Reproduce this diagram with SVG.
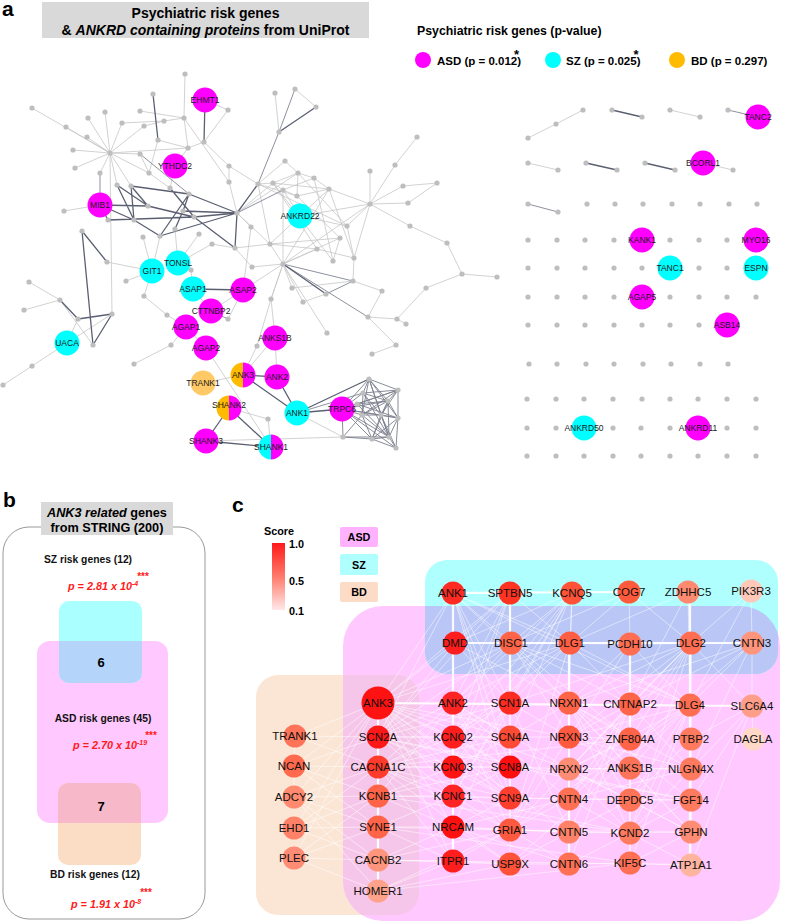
<svg xmlns="http://www.w3.org/2000/svg" width="786" height="922" viewBox="0 0 786 922">
<defs>
<style>
text{font-family:"Liberation Sans",Arial,sans-serif}
.b{font-weight:bold}
.e1{stroke:#C6C6C6;stroke-width:0.8;fill:none}
.e2{stroke:#8D929E;stroke-width:1;fill:none}
.e3{stroke:#5A6071;stroke-width:1.3;fill:none}
.ek{stroke:#7A7F8C;stroke-width:0.9;fill:none}
.g circle{fill:#BEBEBE}
.lbl{font-size:8.5px;fill:#1a1a1a;text-anchor:middle}
.cl{font-size:11.5px;fill:#111;text-anchor:middle}
.ce{stroke:#fff;stroke-width:0.9;stroke-opacity:0.55;fill:none}
.cg{stroke:#fff;stroke-width:2.2;stroke-opacity:0.9;fill:none}
.mag{fill:#FF00FF}
.cya{fill:#00FFFF}
.ora{fill:#FFBB00}
.red{fill:#FF1A1A;font-style:italic;font-weight:bold;font-size:10.8px}
.star{fill:#FF1A1A;font-weight:bold;font-size:10px;text-anchor:middle}
</style>
<linearGradient id="sc" x1="0" y1="0" x2="0" y2="1">
<stop offset="0" stop-color="#FF1A1A"/>
<stop offset="0.5" stop-color="#FF7A6A"/>
<stop offset="1" stop-color="#FFE8E8"/>
</linearGradient>
<clipPath id="cpB"><rect x="37" y="641" width="131" height="182" rx="13"/></clipPath>
<clipPath id="cpC"><rect x="343" y="606" width="437" height="315" rx="40"/></clipPath>
</defs>
<rect width="786" height="922" fill="#fff"/>

<!-- ===== Panel a ===== -->
<text x="2" y="16" class="b" font-size="21">a</text>
<g id="a-title">
<rect x="42" y="2" width="327" height="36" fill="#D9D9D9"/>
<text x="205.5" y="18" class="b" font-size="14" text-anchor="middle">Psychiatric risk genes</text>
<text x="205.5" y="34.5" class="b" font-size="14" text-anchor="middle">&amp; <tspan font-style="italic">ANKRD containing proteins</tspan> from UniProt</text>
</g>
<g id="a-legend">
<text x="417" y="35" class="b" font-size="12.3">Psychiatric risk genes (p-value)</text>
<circle cx="423" cy="60" r="8" class="mag"/>
<text x="437" y="65" class="b" font-size="11.5">ASD (p = 0.012)<tspan dx="-7" dy="-6" font-size="13">*</tspan></text>
<circle cx="553" cy="60" r="8" class="cya"/>
<text x="566" y="65" class="b" font-size="11.5">SZ (p = 0.025)<tspan dx="-7" dy="-6" font-size="13">*</tspan></text>
<circle cx="677" cy="60" r="8" class="ora"/>
<text x="691" y="65" class="b" font-size="11.5">BD (p = 0.297)</text>
</g>

<g id="a-connectors">
<path class="e1" d="M110 153L32 108M110 153L66 127M110 153L88 118M110 153L105 112M110 153L87 137M110 153L73 150M110 153L75 168M110 153L122 123M110 153L144 126M110 153L140 154M110 153L149 173M110 153L117 185M110 153L131 186M110 153L188 148M110 153L112 314M185 74L184 118M140 111L184 118M122 123L164 121M144 126L164 121M164 121L184 118M184 118L229 182M184 118L188 148M158 140L188 148M188 148L204 142M204 142L229 166M228 110L205 100M228 110L204 142M229 166L258 184M229 166L229 182M229 182L237 213M188 148L175 166M175 166L170 188M149 173L170 188M140 154L149 173M158 140L149 173M100 205L64 211M100 173L110 153M275 93L279 132M295 89L316 107M285 161L258 184M285 161L298 173M258 184L273 183M273 183L283 190M283 190L297 196M298 173L314 178M314 178L329 189M297 196L329 189M273 183L298 173M283 190L314 178M258 184L297 196M273 183L329 189M298 173L297 196M283 190L300 216M273 183L317 249M258 184L270 244M297 196L340 238M298 173L347 226M314 178L333 261M329 189L354 258M258 184L347 226M273 183L333 261M270 244L340 238M270 244L329 189M270 244L317 249M317 249L354 258M340 238L333 261M347 226L354 258M300 216L347 226M300 216L370 204M329 189L370 204M283 264L270 244M283 264L317 249M283 264L340 238M283 264L329 189M283 264L283 190M283 264L303 302M283 264L292 288M283 264L271 299M283 264L327 333M283 264L370 204M283 264L252 267M237 213L270 244M235 248L270 244M235 248L252 267M237 213L298 173M237 213L273 183M353 281L382 291M368 317L382 291M368 317L397 319M397 319L426 288M426 288L462 274M462 274L497 277M462 274L447 243M447 243L410 226M410 226L370 204M370 204L370 171M370 204L395 165M370 204L403 186M370 204L408 203M403 186L437 183M408 203L437 183M395 165L417 137M370 204L354 258M370 204L347 226M368 317L396 345M396 345L372 354M397 319L406 324M353 281L354 258M303 302L326 294M292 288L353 281M60 300L29 282M60 300L24 310M67 343L112 314M67 343L32 366M32 366L3 385M107 262L152 271M152 271L126 281M152 271L144 296M144 296L167 315M167 315L186 327M152 271L143 237M152 271L160 236M178 263L191 270M178 263L175 229M178 263L199 234M191 270L193 289M212 244L235 248M178 263L212 244M193 289L211 311M243 290L211 311M243 290L228 319M243 290L251 227M243 290L283 264M251 227L237 213M186 327L206 348M186 327L171 345M171 345L134 364M206 348L271 447M283 264L271 299M271 299L257 346M257 346L243 375M275 337L243 375M275 337L277 377M275 337L271 299M203 383L243 375M229 408L268 419M268 419L271 447M206 441L343 437M297 413L343 437M67 343L78 319M60 300L93 345"/>
<path class="e2" d="M100 205L100 173M279 132L258 184M295 89L279 132M237 213L283 190M140 154L189 194M283 264L353 281M283 264L368 317M211 311L228 319M297 413L363 393M326 294L353 281"/>
<path class="e3" d="M205 100L204 142M153 94L158 140M100 205L148 206M100 205L134 220M100 205L108 220M117 185L148 206M117 185L134 220M131 186L134 220M131 186L148 206M108 220L194 217M134 220L160 236M148 206L194 217M131 186L189 194M189 194L183 211M189 194L160 236M189 194L237 213M183 211L237 213M194 217L237 213M160 236L237 213M194 217L235 248M170 188L194 217M183 211L175 229M237 213L235 248M237 213L258 184M279 132L316 107M82 231L107 262M82 231L93 345M112 314L93 345M78 319L112 314M60 300L78 319M283 264L326 294M193 289L243 290M243 375L277 377M243 375L297 413M277 377L297 413M297 413L342 409M229 408L206 441M229 408L271 447M206 441L271 447M297 413L369 379"/>
<path class="ek" d="M342 409L369 379M342 409L388 401M342 409L398 418M342 409L381 415M342 409L363 393M342 409L362 415M342 409L389 437M342 409L372 439M342 409L343 437M342 409L357 404M342 409L396 448M342 409L398 390M369 379L388 401M369 379L398 418M369 379L381 415M369 379L363 393M369 379L362 415M369 379L389 437M369 379L398 390M388 401L398 418M388 401L381 415M388 401L362 415M388 401L389 437M388 401L372 439M388 401L398 390M398 418L381 415M398 418L389 437M398 418L372 439M398 418L396 448M398 418L398 390M381 415L363 393M381 415L362 415M381 415L389 437M381 415L372 439M381 415L396 448M363 393L362 415M363 393L388 401M363 393L389 437M363 393L398 390M362 415L389 437M362 415L372 439M362 415L343 437M389 437L372 439M389 437L396 448M372 439L343 437M372 439L396 448M357 404L388 401M357 404L398 418M357 404L389 437M357 404L398 390M343 437L389 437M398 390L381 415M398 390L362 415"/>
<path class="e1" d="M528 138L556 124L583 110M670 110L700 117M528 163L558 170M703 163L733 170"/>
<path class="e2" d="M728 110L758 117M528 204L558 212"/>
<path class="e3" d="M612 110L642 117M586 163L617 170M645 163L675 170"/>
</g>

<g id="a-gray-nodes" class="g">
<circle cx="32" cy="108" r="2.6"/><circle cx="88" cy="118" r="2.6"/><circle cx="105" cy="112" r="2.6"/><circle cx="66" cy="127" r="2.6"/><circle cx="87" cy="137" r="2.6"/><circle cx="73" cy="150" r="2.6"/><circle cx="75" cy="168" r="2.6"/><circle cx="110" cy="153" r="2.6"/><circle cx="122" cy="123" r="2.6"/><circle cx="140" cy="111" r="2.6"/><circle cx="144" cy="126" r="2.6"/><circle cx="153" cy="94" r="2.6"/><circle cx="164" cy="121" r="2.6"/><circle cx="185" cy="74" r="2.6"/><circle cx="184" cy="118" r="2.6"/><circle cx="158" cy="140" r="2.6"/><circle cx="140" cy="154" r="2.6"/><circle cx="188" cy="148" r="2.6"/><circle cx="149" cy="173" r="2.6"/><circle cx="100" cy="173" r="2.6"/><circle cx="117" cy="185" r="2.6"/><circle cx="131" cy="186" r="2.6"/><circle cx="170" cy="188" r="2.6"/><circle cx="189" cy="194" r="2.6"/><circle cx="148" cy="206" r="2.6"/><circle cx="64" cy="211" r="2.6"/><circle cx="108" cy="220" r="2.6"/><circle cx="134" cy="220" r="2.6"/><circle cx="183" cy="211" r="2.6"/><circle cx="194" cy="217" r="2.6"/><circle cx="82" cy="231" r="2.6"/><circle cx="143" cy="237" r="2.6"/><circle cx="160" cy="236" r="2.6"/><circle cx="175" cy="229" r="2.6"/><circle cx="228" cy="110" r="2.6"/><circle cx="204" cy="142" r="2.6"/><circle cx="229" cy="166" r="2.6"/><circle cx="229" cy="182" r="2.6"/><circle cx="199" cy="234" r="2.6"/><circle cx="237" cy="213" r="2.6"/><circle cx="258" cy="184" r="2.6"/><circle cx="273" cy="183" r="2.6"/><circle cx="283" cy="190" r="2.6"/><circle cx="297" cy="196" r="2.6"/><circle cx="298" cy="173" r="2.6"/><circle cx="314" cy="178" r="2.6"/><circle cx="329" cy="189" r="2.6"/><circle cx="285" cy="161" r="2.6"/><circle cx="275" cy="93" r="2.6"/><circle cx="295" cy="89" r="2.6"/><circle cx="316" cy="107" r="2.6"/><circle cx="279" cy="132" r="2.6"/><circle cx="235" cy="248" r="2.6"/><circle cx="270" cy="244" r="2.6"/><circle cx="252" cy="267" r="2.6"/><circle cx="283" cy="264" r="2.6"/><circle cx="317" cy="249" r="2.6"/><circle cx="340" cy="238" r="2.6"/><circle cx="347" cy="226" r="2.6"/><circle cx="333" cy="261" r="2.6"/><circle cx="354" cy="258" r="2.6"/><circle cx="353" cy="281" r="2.6"/><circle cx="326" cy="294" r="2.6"/><circle cx="303" cy="302" r="2.6"/><circle cx="292" cy="288" r="2.6"/><circle cx="271" cy="299" r="2.6"/><circle cx="368" cy="317" r="2.6"/><circle cx="382" cy="291" r="2.6"/><circle cx="370" cy="204" r="2.6"/><circle cx="370" cy="171" r="2.6"/><circle cx="395" cy="165" r="2.6"/><circle cx="417" cy="137" r="2.6"/><circle cx="437" cy="183" r="2.6"/><circle cx="403" cy="186" r="2.6"/><circle cx="408" cy="203" r="2.6"/><circle cx="410" cy="226" r="2.6"/><circle cx="447" cy="243" r="2.6"/><circle cx="462" cy="274" r="2.6"/><circle cx="497" cy="277" r="2.6"/><circle cx="426" cy="288" r="2.6"/><circle cx="406" cy="324" r="2.6"/><circle cx="397" cy="319" r="2.6"/><circle cx="396" cy="345" r="2.6"/><circle cx="372" cy="354" r="2.6"/><circle cx="327" cy="333" r="2.6"/><circle cx="107" cy="262" r="2.6"/><circle cx="112" cy="314" r="2.6"/><circle cx="93" cy="345" r="2.6"/><circle cx="78" cy="319" r="2.6"/><circle cx="60" cy="300" r="2.6"/><circle cx="29" cy="282" r="2.6"/><circle cx="24" cy="310" r="2.6"/><circle cx="32" cy="366" r="2.6"/><circle cx="3" cy="385" r="2.6"/><circle cx="126" cy="281" r="2.6"/><circle cx="144" cy="296" r="2.6"/><circle cx="167" cy="315" r="2.6"/><circle cx="171" cy="345" r="2.6"/><circle cx="134" cy="364" r="2.6"/><circle cx="212" cy="244" r="2.6"/><circle cx="251" cy="227" r="2.6"/><circle cx="228" cy="319" r="2.6"/><circle cx="257" cy="346" r="2.6"/><circle cx="268" cy="419" r="2.6"/><circle cx="191" cy="270" r="2.6"/>
<circle cx="369" cy="379" r="2.6"/><circle cx="388" cy="401" r="2.6"/><circle cx="398" cy="418" r="2.6"/><circle cx="381" cy="415" r="2.6"/><circle cx="363" cy="393" r="2.6"/><circle cx="362" cy="415" r="2.6"/><circle cx="389" cy="437" r="2.6"/><circle cx="372" cy="439" r="2.6"/><circle cx="343" cy="437" r="2.6"/><circle cx="357" cy="404" r="2.6"/><circle cx="396" cy="448" r="2.6"/><circle cx="398" cy="390" r="2.6"/>
<circle cx="528" cy="138" r="2.6"/><circle cx="556" cy="124" r="2.6"/><circle cx="583" cy="110" r="2.6"/><circle cx="612" cy="110" r="2.6"/><circle cx="642" cy="117" r="2.6"/><circle cx="670" cy="110" r="2.6"/><circle cx="700" cy="117" r="2.6"/><circle cx="728" cy="110" r="2.6"/>
<circle cx="528" cy="163" r="2.6"/><circle cx="558" cy="170" r="2.6"/><circle cx="586" cy="163" r="2.6"/><circle cx="617" cy="170" r="2.6"/><circle cx="645" cy="163" r="2.6"/><circle cx="675" cy="170" r="2.6"/><circle cx="733" cy="170" r="2.6"/>
<circle cx="528" cy="204" r="2.6"/><circle cx="558" cy="212" r="2.6"/><circle cx="587" cy="204" r="2.6"/><circle cx="615" cy="204" r="2.6"/><circle cx="643" cy="204" r="2.6"/><circle cx="672" cy="204" r="2.6"/><circle cx="700" cy="204" r="2.6"/><circle cx="729" cy="204" r="2.6"/><circle cx="757" cy="204" r="2.6"/>
<circle cx="528" cy="240" r="2.6"/><circle cx="557" cy="240" r="2.6"/><circle cx="585" cy="240" r="2.6"/><circle cx="614" cy="240" r="2.6"/><circle cx="670" cy="240" r="2.6"/><circle cx="699" cy="240" r="2.6"/><circle cx="727" cy="240" r="2.6"/>
<circle cx="528" cy="268" r="2.6"/><circle cx="557" cy="268" r="2.6"/><circle cx="585" cy="268" r="2.6"/><circle cx="614" cy="268" r="2.6"/><circle cx="642" cy="268" r="2.6"/><circle cx="699" cy="268" r="2.6"/><circle cx="727" cy="268" r="2.6"/>
<circle cx="528" cy="297" r="2.6"/><circle cx="557" cy="297" r="2.6"/><circle cx="585" cy="297" r="2.6"/><circle cx="614" cy="297" r="2.6"/><circle cx="670" cy="297" r="2.6"/><circle cx="699" cy="297" r="2.6"/><circle cx="727" cy="297" r="2.6"/><circle cx="756" cy="297" r="2.6"/>
<circle cx="528" cy="325" r="2.6"/><circle cx="557" cy="325" r="2.6"/><circle cx="585" cy="325" r="2.6"/><circle cx="614" cy="325" r="2.6"/><circle cx="642" cy="325" r="2.6"/><circle cx="670" cy="325" r="2.6"/><circle cx="699" cy="325" r="2.6"/>
<circle cx="529" cy="364" r="2.6"/><circle cx="557" cy="364" r="2.6"/><circle cx="586" cy="364" r="2.6"/><circle cx="614" cy="364" r="2.6"/><circle cx="643" cy="364" r="2.6"/><circle cx="671" cy="364" r="2.6"/><circle cx="700" cy="364" r="2.6"/><circle cx="728" cy="364" r="2.6"/>
<circle cx="527" cy="399" r="2.6"/><circle cx="556" cy="399" r="2.6"/><circle cx="584" cy="399" r="2.6"/><circle cx="613" cy="399" r="2.6"/><circle cx="642" cy="399" r="2.6"/><circle cx="670" cy="399" r="2.6"/><circle cx="698" cy="399" r="2.6"/><circle cx="727" cy="399" r="2.6"/><circle cx="756" cy="399" r="2.6"/>
<circle cx="527" cy="428" r="2.6"/><circle cx="556" cy="428" r="2.6"/><circle cx="613" cy="428" r="2.6"/><circle cx="641" cy="428" r="2.6"/><circle cx="670" cy="428" r="2.6"/><circle cx="727" cy="428" r="2.6"/><circle cx="756" cy="428" r="2.6"/>
<circle cx="527" cy="456" r="2.6"/><circle cx="556" cy="456" r="2.6"/><circle cx="584" cy="456" r="2.6"/><circle cx="613" cy="456" r="2.6"/><circle cx="641" cy="456" r="2.6"/><circle cx="670" cy="456" r="2.6"/><circle cx="698" cy="456" r="2.6"/><circle cx="727" cy="456" r="2.6"/><circle cx="756" cy="456" r="2.6"/>
</g>

<g id="a-EHMT1"><circle cx="205" cy="100" r="12.5" class="mag"/><text x="205" y="103" class="lbl">EHMT1</text></g>
<g id="a-YTHDC2"><circle cx="175" cy="166" r="12.5" class="mag"/><text x="175" y="169" class="lbl">YTHDC2</text></g>
<g id="a-MIB1"><circle cx="100" cy="205" r="12.5" class="mag"/><text x="100" y="208" class="lbl">MIB1</text></g>
<g id="a-ANKRD22"><circle cx="300" cy="216" r="12.5" class="cya"/><text x="300" y="219" class="lbl">ANKRD22</text></g>
<g id="a-GIT1"><circle cx="152" cy="271" r="12.5" class="cya"/><text x="152" y="274" class="lbl">GIT1</text></g>
<g id="a-TONSL"><circle cx="178" cy="263" r="12.5" class="cya"/><text x="178" y="266" class="lbl">TONSL</text></g>
<g id="a-ASAP1"><circle cx="193" cy="289" r="12.5" class="cya"/><text x="193" y="292" class="lbl">ASAP1</text></g>
<g id="a-ASAP2"><circle cx="243" cy="290" r="12.5" class="mag"/><text x="243" y="293" class="lbl">ASAP2</text></g>
<g id="a-CTTNBP2"><circle cx="211" cy="311" r="12.5" class="mag"/><text x="211" y="314" class="lbl">CTTNBP2</text></g>
<g id="a-AGAP1"><circle cx="186" cy="327" r="12.5" class="mag"/><text x="186" y="330" class="lbl">AGAP1</text></g>
<g id="a-AGAP2"><circle cx="206" cy="348" r="12.5" class="mag"/><text x="206" y="351" class="lbl">AGAP2</text></g>
<g id="a-ANKS1B"><circle cx="275" cy="338" r="12.5" class="mag"/><text x="275" y="341" class="lbl">ANKS1B</text></g>
<g id="a-UACA"><circle cx="67" cy="343" r="12.5" class="cya"/><text x="67" y="346" class="lbl">UACA</text></g>
<g id="a-TRANK1"><circle cx="203" cy="383" r="12.5" fill="#FFC966"/><text x="203" y="386" class="lbl">TRANK1</text></g>
<g id="a-ANK3"><path d="M243 362.5A12.5 12.5 0 0 0 243 387.5Z" class="ora"/><path d="M243 362.5A12.5 12.5 0 0 1 243 387.5Z" class="mag"/><text x="243" y="378" class="lbl">ANK3</text></g>
<g id="a-ANK2"><circle cx="277" cy="377" r="12.5" class="mag"/><text x="277" y="380" class="lbl">ANK2</text></g>
<g id="a-SHANK2"><path d="M229 395.5A12.5 12.5 0 0 0 229 420.5Z" class="ora"/><path d="M229 395.5A12.5 12.5 0 0 1 229 420.5Z" class="mag"/><text x="229" y="408" class="lbl">SHANK2</text></g>
<g id="a-ANK1"><circle cx="297" cy="413" r="12.5" class="cya"/><text x="297" y="416" class="lbl">ANK1</text></g>
<g id="a-TRPC6"><circle cx="342" cy="409" r="12.5" class="mag"/><text x="342" y="412" class="lbl">TRPC6</text></g>
<g id="a-SHANK3"><circle cx="206" cy="441" r="12.5" class="mag"/><text x="206" y="444" class="lbl">SHANK3</text></g>
<g id="a-SHANK1"><path d="M271 434.5A12.5 12.5 0 0 0 271 459.5Z" class="cya"/><path d="M271 434.5A12.5 12.5 0 0 1 271 459.5Z" class="mag"/><text x="271" y="450" class="lbl">SHANK1</text></g>
<g id="a-TANC2"><circle cx="758" cy="117" r="12.5" class="mag"/><text x="758" y="120" class="lbl">TANC2</text></g>
<g id="a-BCORL1"><circle cx="703" cy="163" r="12.5" class="mag"/><text x="703" y="166" class="lbl">BCORL1</text></g>
<g id="a-KANK1"><circle cx="642" cy="240" r="12.5" class="mag"/><text x="642" y="243" class="lbl">KANK1</text></g>
<g id="a-MYO16"><circle cx="756" cy="240" r="12.5" class="mag"/><text x="756" y="243" class="lbl">MYO16</text></g>
<g id="a-TANC1"><circle cx="670" cy="268" r="12.5" class="cya"/><text x="670" y="271" class="lbl">TANC1</text></g>
<g id="a-ESPN"><circle cx="756" cy="268" r="12.5" class="cya"/><text x="756" y="271" class="lbl">ESPN</text></g>
<g id="a-AGAP5"><circle cx="642" cy="297" r="12.5" class="mag"/><text x="642" y="300" class="lbl">AGAP5</text></g>
<g id="a-ASB14"><circle cx="727" cy="325" r="12.5" class="mag"/><text x="727" y="328" class="lbl">ASB14</text></g>
<g id="a-ANKRD50"><circle cx="584" cy="428" r="12.5" class="cya"/><text x="584" y="431" class="lbl">ANKRD50</text></g>
<g id="a-ANKRD11"><circle cx="698" cy="428" r="12.5" class="mag"/><text x="698" y="431" class="lbl">ANKRD11</text></g>

<!-- ===== Panel b ===== -->
<text x="3" y="507" class="b" font-size="21">b</text>
<rect x="3" y="527" width="202" height="392" rx="26" fill="none" stroke="#999" stroke-width="1"/>
<g id="b-title">
<rect x="41" y="502" width="132" height="33" fill="#D9D9D9"/>
<text x="107" y="516.5" class="b" font-size="12.7" text-anchor="middle"><tspan font-style="italic">ANK3 related</tspan> genes</text>
<text x="107" y="532" class="b" font-size="12.7" text-anchor="middle">from STRING (200)</text>
</g>
<g id="b-ASD"><rect x="37" y="641" width="131" height="182" rx="13" fill="#FFC8FF"/></g>
<g id="b-SZ"><rect x="59" y="601" width="83" height="82" rx="10" fill="#AAFFFF"/>
<rect x="59" y="601" width="83" height="82" rx="10" fill="#B4D4FA" clip-path="url(#cpB)"/></g>
<g id="b-BD"><rect x="58" y="783" width="83" height="82" rx="10" fill="#FBDDC5"/>
<rect x="58" y="783" width="83" height="82" rx="10" fill="#F7B9CA" clip-path="url(#cpB)"/></g>
<g id="b-texts">
<text x="88" y="563" class="b" font-size="10.3" text-anchor="middle" fill="#111">SZ risk genes (12)</text>
<text x="143" y="580" class="star">***</text>
<text x="68" y="590" class="red">p = 2.81 x 10<tspan font-size="7" dy="-4">-4</tspan></text>
<text x="101" y="667" class="b" font-size="13" text-anchor="middle">6</text>
<text x="103" y="722" class="b" font-size="10.3" text-anchor="middle" fill="#111">ASD risk genes (45)</text>
<text x="151" y="739" class="star">***</text>
<text x="73" y="749" class="red">p = 2.70 x 10<tspan font-size="7" dy="-4">-19</tspan></text>
<text x="101" y="811" class="b" font-size="13" text-anchor="middle">7</text>
<text x="95" y="878" class="b" font-size="10.3" text-anchor="middle" fill="#111">BD risk genes (12)</text>
<text x="146" y="896" class="star">***</text>
<text x="71" y="908" class="red">p = 1.91 x 10<tspan font-size="7" dy="-4">-8</tspan></text>
</g>

<!-- ===== Panel c ===== -->
<text x="232" y="512" class="b" font-size="21">c</text>
<g id="c-scale">
<text x="279" y="535" class="b" font-size="10.8" text-anchor="middle">Score</text>
<rect x="272" y="543" width="13" height="67" fill="url(#sc)"/>
<text x="289" y="548" class="b" font-size="10.8">1.0</text>
<text x="289" y="585" class="b" font-size="10.8">0.5</text>
<text x="289" y="615" class="b" font-size="10.8">0.1</text>
</g>
<g id="c-legend">
<rect x="340" y="527" width="38" height="20" rx="2" fill="#FFB3FF"/><text x="359" y="541" class="b" font-size="10.8" text-anchor="middle">ASD</text>
<rect x="340" y="554" width="38" height="21" rx="2" fill="#B0FFFF"/><text x="359" y="568.5" class="b" font-size="10.8" text-anchor="middle">SZ</text>
<rect x="340" y="582" width="38" height="20" rx="2" fill="#FCDCC6"/><text x="359" y="596" class="b" font-size="10.8" text-anchor="middle">BD</text>
</g>
<g id="c-groups">
<rect x="256" y="675" width="163" height="240" rx="22" fill="#FBE6D6"/>
<rect x="343" y="606" width="437" height="315" rx="40" fill="#FFC9FF"/>
<rect x="425" y="560" width="353" height="114" rx="22" fill="#B0FFFF"/>
<rect x="425" y="560" width="353" height="114" rx="22" fill="#BAC6F6" clip-path="url(#cpC)"/>
<rect x="256" y="675" width="163" height="240" rx="22" fill="#F6C6EA" clip-path="url(#cpC)"/>
</g>
<g id="c-connectors">
<path class="ce" d="M453 593L511 643M453 593L570 643M453 593L378 703M453 593L510 703M453 593L510 737M453 593L510 767M453 593L378 737M453 593L690 705M453 593L569 703M453 593L510 798M510 593L455 643M510 593L453 703M510 593L378 703M510 593L378 737M510 593L453 737M510 593L570 643M510 593L510 737M510 593L453 767M572 593L455 643M572 593L511 643M572 593L453 703M572 593L453 737M572 593L453 767M572 593L510 703M572 593L510 737M572 593L569 703M572 593L570 643M572 593L453 796M629 592L570 643M629 592L511 643M629 592L630 644M629 592L691 643M688 592L691 643M688 592L690 705M688 592L570 643M688 592L630 704M751 591L691 643M751 591L690 705M751 591L752 643M455 643L378 703M455 643L510 703M455 643L569 703M455 643L378 737M511 643L378 703M511 643L453 703M511 643L569 703M511 643L630 704M511 643L690 705M511 643L378 737M511 643L569 737M511 643L630 644M511 643L630 739M570 643L378 703M570 643L453 703M570 643L510 703M570 643L630 704M570 643L690 705M570 643L569 737M570 643L691 643M570 643L453 737M570 643L510 830M630 644L569 703M630 644L690 705M630 644L752 643M630 644L569 737M630 644L691 643M691 643L630 704M691 643L569 703M691 643L691 769M691 643L569 769M691 643L510 830M691 643L630 833M691 643L752 706M691 643L630 768M691 643L510 703M691 643L569 799M691 643L569 737M691 643L630 739M691 643L691 832M691 643L511 643M752 643L690 705M752 643L752 706M752 643L569 799M752 643L691 769M752 643L569 703M752 643L630 704"/>
<path class="ce" d="M378 703L453 737M378 703L510 737M378 703L453 767M378 703L510 767M378 703L510 798M378 703L453 827M378 703L510 830M378 703L295 736M378 703L294 766M378 703L294 797M378 703L294 828M378 703L294 858M378 703L453 861M378 703L453 796M378 703L569 832M378 703L569 737M378 703L569 769M453 703L378 737M453 703L378 767M453 703L510 767M453 703L510 798M453 703L378 796M453 703L510 737M453 703L510 830M453 703L569 769M453 703L569 799M510 703L378 737M510 703L453 737M510 703L453 767M510 703L510 767M510 703L510 798M510 703L378 767M510 703L569 737M510 703L510 830M510 703L453 796M510 703L453 827M510 703L569 832M569 703L569 737M569 703L569 769M569 703L691 769M569 703L569 799M569 703L630 768M569 703L510 830M569 703L510 737M569 703L630 739M569 703L569 832M569 703L569 864M569 703L630 833M569 703L691 832M569 703L691 800M569 703L630 800M630 704L569 737M630 704L569 799M630 704L569 769M630 704L630 739M630 704L569 832M630 704L569 864M630 704L691 769M630 704L630 863M690 705L691 769M690 705L510 830M690 705L630 833M690 705L691 832M690 705L569 769M690 705L630 768M690 705L691 739M690 705L569 737M690 705L630 800M690 705L630 863M690 705L510 864M752 706L691 769M752 706L691 739M752 706L753 739M752 706L691 800M752 706L691 865"/>
<path class="ce" d="M295 736L378 737M295 736L378 767M295 736L294 766M294 766L378 737M294 766L378 767M294 766L378 796M294 766L378 827M294 766L294 797M294 797L378 767M294 797L378 796M294 797L378 827M294 797L378 860M294 797L378 891M294 828L378 827M294 828L378 796M294 828L378 860M294 828L378 767M294 858L378 827M294 858L378 860M294 858L378 891M294 858L378 796M378 737L453 737M378 737L453 767M378 737L510 767M378 737L510 737M378 737L510 798M378 737L453 796M378 737L691 800M453 737L510 767M453 737L510 737M453 737L453 796M453 737L510 798M453 737L453 827M453 737L378 767M510 737L510 798M510 737L453 767M510 737L378 767M510 737L569 737M569 737L569 769M569 737L569 799M569 737L691 769M569 737L510 830M569 737L569 832M569 737L630 768M569 737L630 739M630 739L378 767M630 739L569 769M691 739L691 769M691 739L630 800M378 767L378 796M378 767L378 860M378 767L378 827M378 767L453 861M378 767L453 796M378 767L510 830M378 767L510 864M378 767L510 767M378 767L453 767M378 767L510 798M453 767L510 767M453 767L453 796M453 767L378 796M453 767L510 798M453 767L453 827M510 767L510 798M510 767L453 796M510 767L378 796M510 767L510 830M510 767L691 800M510 767L569 769M569 769L569 799M569 769L691 769M569 769L569 832M569 769L630 833M569 769L630 768M569 769L630 800M569 769L691 832M630 768L691 769M630 768L630 800M630 768L630 833M630 768L630 863M630 768L691 832M691 769L691 800M691 769L691 832M691 769L630 833M691 769L569 799"/>
<path class="ce" d="M378 796L453 796M378 796L378 827M378 796L378 860M378 796L378 891M378 796L630 833M378 796L510 798M378 796L453 827M453 796L453 827M453 796L510 798M453 796L630 833M453 796L378 827M453 796L510 830M453 796L453 861M510 798L510 830M510 798L453 827M510 798L691 800M510 798L569 799M569 799L569 832M569 799L569 864M569 799L453 827M569 799L630 800M569 799L630 833M569 799L510 830M630 800L630 833M630 800L691 800M630 800L691 832M630 800L569 832M691 800L691 832M691 800L630 833M378 827L378 860M378 827L453 827M378 827L630 863M378 827L378 891M378 827L453 861M378 827L510 830M453 827L569 832M453 827L569 864M453 827L453 861M453 827L510 830M453 827L378 860M453 827L510 864M510 830L510 864M510 830L691 832M510 830L378 891M510 830L630 833M510 830L569 832M510 830L453 861M510 830L378 860M510 830L569 864M569 832L569 864M569 832L630 833M569 832L510 864M630 833L630 863M630 833L691 832M630 833L569 864M630 833L691 865M691 832L691 865M691 832L630 863M378 860L453 861M378 860L510 864M453 861L378 891M453 861L510 864M510 864L569 864M510 864L378 891M569 864L630 863M630 863L691 865M630 863L378 891M378 860L691 865"/>
<path class="cg" d="M453 593L453 861M510 593L510 703M569 643L569 737M569 799L569 864M630 644L630 739M690 592L690 865M378 703L378 891M453 593L629 592M455 643L752 643M378 703L752 706"/>
</g>
<g id="c-nodes" class="cl">
<g id="c-ANK1"><circle cx="453" cy="593" r="11.5" fill="#FF2A22"/><text x="453" y="597">ANK1</text></g>
<g id="c-SPTBN5"><circle cx="510" cy="593" r="11.5" fill="#FF3322"/><text x="510" y="597">SPTBN5</text></g>
<g id="c-KCNQ5"><circle cx="572" cy="593" r="11.5" fill="#FF5238"/><text x="572" y="597">KCNQ5</text></g>
<g id="c-COG7"><circle cx="629" cy="592" r="11.5" fill="#FF5A3C"/><text x="629" y="596">COG7</text></g>
<g id="c-ZDHHC5"><circle cx="688" cy="592" r="11.5" fill="#FF8A70"/><text x="688" y="596">ZDHHC5</text></g>
<g id="c-PIK3R3"><circle cx="751" cy="591" r="11.5" fill="#FFC8B8"/><text x="751" y="595">PIK3R3</text></g>
<g id="c-DMD"><circle cx="455" cy="643" r="11.5" fill="#FF1E1E"/><text x="455" y="647">DMD</text></g>
<g id="c-DISC1"><circle cx="511" cy="643" r="11.5" fill="#FF6448"/><text x="511" y="647">DISC1</text></g>
<g id="c-DLG1"><circle cx="570" cy="643" r="11.5" fill="#FF5E44"/><text x="570" y="647">DLG1</text></g>
<g id="c-PCDH10"><circle cx="630" cy="644" r="11.5" fill="#FF6E52"/><text x="630" y="648">PCDH10</text></g>
<g id="c-DLG2"><circle cx="691" cy="643" r="11.5" fill="#FF6E52"/><text x="691" y="647">DLG2</text></g>
<g id="c-CNTN3"><circle cx="752" cy="643" r="11.5" fill="#FF957C"/><text x="752" y="647">CNTN3</text></g>
<g id="c-ANK3"><circle cx="378" cy="703" r="16.5" fill="#FF1212"/><text x="378" y="707">ANK3</text></g>
<g id="c-ANK2"><circle cx="453" cy="703" r="11.5" fill="#FF2424"/><text x="453" y="707">ANK2</text></g>
<g id="c-SCN1A"><circle cx="510" cy="703" r="11.5" fill="#FF2C22"/><text x="510" y="707">SCN1A</text></g>
<g id="c-NRXN1"><circle cx="569" cy="703" r="11.5" fill="#FF6448"/><text x="569" y="707">NRXN1</text></g>
<g id="c-CNTNAP2"><circle cx="630" cy="704" r="11.5" fill="#FF6448"/><text x="630" y="708">CNTNAP2</text></g>
<g id="c-DLG4"><circle cx="690" cy="705" r="11.5" fill="#FF6E52"/><text x="690" y="709">DLG4</text></g>
<g id="c-SLC6A4"><circle cx="752" cy="706" r="11.5" fill="#FF9E88"/><text x="752" y="710">SLC6A4</text></g>
<g id="c-TRANK1"><circle cx="295" cy="736" r="11.5" fill="#FF7458"/><text x="295" y="740">TRANK1</text></g>
<g id="c-SCN2A"><circle cx="378" cy="737" r="11.5" fill="#FF1818"/><text x="378" y="741">SCN2A</text></g>
<g id="c-KCNQ2"><circle cx="453" cy="737" r="11.5" fill="#FF1E1E"/><text x="453" y="741">KCNQ2</text></g>
<g id="c-SCN4A"><circle cx="510" cy="737" r="11.5" fill="#FF4A34"/><text x="510" y="741">SCN4A</text></g>
<g id="c-NRXN3"><circle cx="569" cy="737" r="11.5" fill="#FF5A40"/><text x="569" y="741">NRXN3</text></g>
<g id="c-ZNF804A"><circle cx="630" cy="739" r="11.5" fill="#FF6448"/><text x="630" y="743">ZNF804A</text></g>
<g id="c-PTBP2"><circle cx="691" cy="739" r="11.5" fill="#FF7A5E"/><text x="691" y="743">PTBP2</text></g>
<g id="c-DAGLA"><circle cx="753" cy="739" r="11.5" fill="#FFD8C8"/><text x="753" y="743">DAGLA</text></g>
<g id="c-NCAN"><circle cx="294" cy="766" r="11.5" fill="#FF6A4E"/><text x="294" y="770">NCAN</text></g>
<g id="c-CACNA1C"><circle cx="378" cy="767" r="11.5" fill="#FF3C2C"/><text x="378" y="771">CACNA1C</text></g>
<g id="c-KCNQ3"><circle cx="453" cy="767" r="11.5" fill="#FF1414"/><text x="453" y="771">KCNQ3</text></g>
<g id="c-SCN8A"><circle cx="510" cy="767" r="11.5" fill="#FF0E0E"/><text x="510" y="771">SCN8A</text></g>
<g id="c-NRXN2"><circle cx="569" cy="769" r="11.5" fill="#FF8C74"/><text x="569" y="773">NRXN2</text></g>
<g id="c-ANKS1B"><circle cx="630" cy="768" r="11.5" fill="#FF7458"/><text x="630" y="772">ANKS1B</text></g>
<g id="c-NLGN4X"><circle cx="691" cy="769" r="11.5" fill="#FF7A5E"/><text x="691" y="773">NLGN4X</text></g>
<g id="c-ADCY2"><circle cx="294" cy="797" r="11.5" fill="#FF8A70"/><text x="294" y="801">ADCY2</text></g>
<g id="c-KCNB1"><circle cx="378" cy="796" r="11.5" fill="#FF6448"/><text x="378" y="800">KCNB1</text></g>
<g id="c-KCNC1"><circle cx="453" cy="796" r="11.5" fill="#FF2424"/><text x="453" y="800">KCNC1</text></g>
<g id="c-SCN9A"><circle cx="510" cy="798" r="11.5" fill="#FF3E2E"/><text x="510" y="802">SCN9A</text></g>
<g id="c-CNTN4"><circle cx="569" cy="799" r="11.5" fill="#FF7054"/><text x="569" y="803">CNTN4</text></g>
<g id="c-DEPDC5"><circle cx="630" cy="800" r="11.5" fill="#FF7458"/><text x="630" y="804">DEPDC5</text></g>
<g id="c-FGF14"><circle cx="691" cy="800" r="11.5" fill="#FF7A5E"/><text x="691" y="804">FGF14</text></g>
<g id="c-EHD1"><circle cx="294" cy="828" r="11.5" fill="#FF8268"/><text x="294" y="832">EHD1</text></g>
<g id="c-SYNE1"><circle cx="378" cy="827" r="11.5" fill="#FF6448"/><text x="378" y="831">SYNE1</text></g>
<g id="c-NRCAM"><circle cx="453" cy="827" r="11.5" fill="#FF1010"/><text x="453" y="831">NRCAM</text></g>
<g id="c-GRIA1"><circle cx="510" cy="830" r="11.5" fill="#FF5A40"/><text x="510" y="834">GRIA1</text></g>
<g id="c-CNTN5"><circle cx="569" cy="832" r="11.5" fill="#FF8268"/><text x="569" y="836">CNTN5</text></g>
<g id="c-KCND2"><circle cx="630" cy="833" r="11.5" fill="#FF7A5E"/><text x="630" y="837">KCND2</text></g>
<g id="c-GPHN"><circle cx="691" cy="832" r="11.5" fill="#FF8C74"/><text x="691" y="836">GPHN</text></g>
<g id="c-PLEC"><circle cx="294" cy="858" r="11.5" fill="#FF8C74"/><text x="294" y="862">PLEC</text></g>
<g id="c-CACNB2"><circle cx="378" cy="860" r="11.5" fill="#FF957C"/><text x="378" y="864">CACNB2</text></g>
<g id="c-ITPR1"><circle cx="453" cy="861" r="11.5" fill="#FF1E1E"/><text x="453" y="865">ITPR1</text></g>
<g id="c-USP9X"><circle cx="510" cy="864" r="11.5" fill="#FF5238"/><text x="510" y="868">USP9X</text></g>
<g id="c-CNTN6"><circle cx="569" cy="864" r="11.5" fill="#FF7054"/><text x="569" y="868">CNTN6</text></g>
<g id="c-KIF5C"><circle cx="630" cy="863" r="11.5" fill="#FF7054"/><text x="630" y="867">KIF5C</text></g>
<g id="c-ATP1A1"><circle cx="691" cy="865" r="11.5" fill="#FFB4A0"/><text x="691" y="869">ATP1A1</text></g>
<g id="c-HOMER1"><circle cx="378" cy="891" r="11.5" fill="#FFA28C"/><text x="378" y="895">HOMER1</text></g>
</g>
</svg>
